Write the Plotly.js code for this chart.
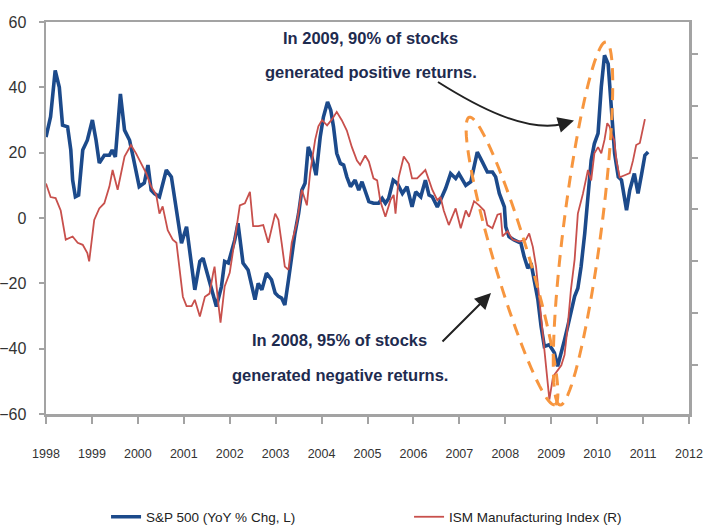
<!DOCTYPE html>
<html>
<head>
<meta charset="utf-8">
<script src="https://cdn.plot.ly/plotly-3.0.1.min.js"></script>
<style>
  html, body { margin: 0; padding: 0; background: #ffffff; }
  #chart { width: 707px; height: 527px; }
</style>
</head>
<body>
<div id="chart"></div>
<script>
// ---------------- data ----------------
const seriesNames = ['S&P 500 (YoY % Chg, L)', 'ISM Manufacturing Index (R)'];

// S&P 500 year-over-year % change (left axis)
const spxDates = [
  1998.00,1998.10,1998.20,1998.29,1998.36,1998.47,1998.54,1998.58,1998.64,1998.71,
  1998.80,1998.90,1999.01,1999.09,1999.16,1999.27,1999.38,1999.44,1999.51,1999.62,
  1999.71,1999.82,1999.89,2000.03,2000.14,2000.22,2000.29,2000.36,2000.47,2000.62,
  2000.73,2000.84,2000.95,2001.06,2001.17,2001.24,2001.35,2001.42,2001.49,2001.64,
  2001.71,2001.82,2001.89,2001.97,2002.11,2002.18,2002.29,2002.40,2002.55,2002.62,
  2002.70,2002.80,2002.91,2002.99,2003.06,2003.13,2003.20,2003.28,2003.35,2003.42,
  2003.50,2003.57,2003.64,2003.71,2003.79,2003.88,2003.97,2004.04,2004.13,2004.20,
  2004.26,2004.33,2004.41,2004.48,2004.55,2004.63,2004.73,2004.81,2004.88,2004.95,
  2005.03,2005.13,2005.24,2005.32,2005.39,2005.46,2005.56,2005.65,2005.76,2005.86,
  2005.97,2006.05,2006.16,2006.26,2006.34,2006.41,2006.52,2006.59,2006.70,2006.81,
  2006.92,2006.99,2007.14,2007.25,2007.32,2007.39,2007.50,2007.61,2007.72,2007.79,
  2007.87,2007.98,2008.01,2008.08,2008.19,2008.34,2008.41,2008.49,2008.56,2008.63,
  2008.71,2008.78,2008.85,2008.96,2009.07,2009.14,2009.22,2009.29,2009.36,2009.43,
  2009.51,2009.58,2009.65,2009.73,2009.80,2009.87,2009.94,2010.02,2010.09,2010.16,
  2010.24,2010.31,2010.38,2010.46,2010.53,2010.64,2010.71,2010.81,2010.89,2010.97,
  2011.04,2011.11
];
const spxYoY = [
  24.8,31,45.2,40,28.4,27.9,20.8,11.6,6.5,7,
  20.8,23.8,30,23.8,16.8,19.2,19.2,20.8,18.7,38,
  26.9,23.8,19.2,9.6,10.7,16.2,8.5,7.5,6.5,14.7,
  12.6,2.4,-7.7,-2.7,-14.9,-22,-13.3,-12.3,-15.9,-24,
  -27.1,-21,-13.3,-13.8,-6.7,-1.6,-13.8,-15.9,-25,-20,
  -22,-16.9,-18.9,-23,-24,-24.5,-26.6,-18.9,-11.8,-4.7,
  1.4,8.5,10.6,21.8,18.7,13.1,24.8,30.9,35.5,33,
  27.9,19.8,16.7,16.2,12.6,9.6,11.6,8.5,11.1,8.5,
  5,4.5,4.5,6,4.5,6,11.6,10.6,7.5,9.6,
  3.4,8,6.5,11.6,7,6.5,3.4,5.5,9,13.6,
  12.1,13.6,10,11.1,15.7,20.2,17.2,14.1,14.1,12.6,
  7.5,3.4,-2.7,-5.7,-6.7,-7.7,-11.8,-15.4,-13.8,-18.9,
  -25,-33.2,-39.3,-38.8,-41.3,-45.4,-40.5,-37.3,-33.2,-29.1,
  -24,-21.5,-14.9,-4.7,6.5,17.7,22.8,25.9,40.1,49.8,
  47.2,35,19.8,12.6,11.6,2.4,8.5,13.6,7.5,13.6,
  19.2,20.2
];

// ISM Manufacturing Index (right axis)
const ismDates = [
  1998.00,1998.10,1998.21,1998.32,1998.43,1998.58,1998.69,1998.80,1998.90,1998.94,
  1999.05,1999.16,1999.27,1999.38,1999.45,1999.56,1999.71,1999.85,1999.96,2000.07,
  2000.18,2000.29,2000.40,2000.47,2000.54,2000.65,2000.76,2000.84,2000.91,2000.98,
  2001.06,2001.17,2001.24,2001.35,2001.46,2001.56,2001.64,2001.67,2001.75,2001.80,
  2001.89,2002.00,2002.11,2002.22,2002.33,2002.44,2002.51,2002.62,2002.73,2002.84,
  2002.99,2003.06,2003.13,2003.20,2003.28,2003.35,2003.46,2003.57,2003.68,2003.75,
  2003.86,2003.93,2004.01,2004.12,2004.23,2004.33,2004.44,2004.55,2004.66,2004.77,
  2004.84,2004.95,2005.03,2005.13,2005.21,2005.28,2005.39,2005.50,2005.57,2005.61,
  2005.68,2005.79,2005.90,2005.97,2006.08,2006.19,2006.26,2006.34,2006.41,2006.52,
  2006.59,2006.66,2006.77,2006.92,2007.03,2007.14,2007.21,2007.32,2007.43,2007.54,
  2007.61,2007.72,2007.83,2007.90,2007.94,2008.05,2008.16,2008.30,2008.45,2008.52,
  2008.60,2008.67,2008.74,2008.82,2008.89,2008.96,2009.04,2009.11,2009.22,2009.29,
  2009.36,2009.43,2009.51,2009.58,2009.69,2009.80,2009.87,2009.94,2010.02,2010.09,
  2010.16,2010.22,2010.27,2010.31,2010.37,2010.42,2010.49,2010.60,2010.71,2010.78,
  2010.85,2010.93,2010.96,2011.04
];
const ismIndex = [
  52.5,51.2,51.1,49.9,47.1,47.4,46.8,46.6,45.8,45.0,
  49.0,50.1,50.6,52.2,53.8,51.9,55.1,56.2,55.4,54.4,
  53.5,52.2,51.4,49.6,50.3,48.0,47.1,46.8,43.9,41.6,
  40.7,40.7,41.3,39.7,41.6,41.9,43.9,44.5,41.0,39.1,
  42.6,43.9,47.1,50.4,50.6,51.7,48.4,48.4,48.5,46.8,
  49.6,49.0,46.8,44.5,44.2,46.8,48.7,51.9,50.4,53.5,
  56.7,58.0,58.6,58.1,58.7,59.4,58.6,57.6,56.0,54.7,
  54.3,55.2,54.6,53.0,52.8,50.8,49.3,50.9,51.4,49.6,
  53.1,55.1,54.4,53.0,53.0,53.5,53.8,52.8,51.9,50.9,
  51.2,49.9,48.5,50.1,48.2,49.9,49.3,50.8,50.4,49.9,
  48.5,48.2,49.5,49.6,47.4,47.9,47.1,46.9,47.1,47.7,
  46.4,44.5,41.3,37.5,34.9,31.7,33.9,34.3,35.0,36.0,
  38.8,42.3,45.2,49.6,51.5,53.8,52.8,55.4,56.0,55.4,
  56.7,58.3,58.0,57.3,56.7,54.7,53.1,53.3,53.5,54.7,
  56.2,56.4,57.0,58.7
];

// axes
const yearTicks = [1998,1999,2000,2001,2002,2003,2004,2005,2006,2007,2008,2009,2010,2011,2012];
const yearLabels = yearTicks.map(String);
const leftTicks = [-60,-40,-20,0,20,40,60];
const rightRange = [30.31, 68.05];

// annotation texts
const note2009 = ['In 2009, 90% of stocks', 'generated positive returns.'];
const note2008 = ['In 2008, 95% of stocks', 'generated negative returns.'];

// ---------------- layout helpers ----------------
const W = 707, H = 527;
const M = {l: 46, r: 18, t: 22, b: 113};
const plotW = W - M.l - M.r, plotH = H - M.t - M.b;
const xr = [1998, 2012], yr = [-60, 60];
const toX = px => xr[0] + (px - M.l) / plotW * (xr[1] - xr[0]);
const toY = py => yr[1] - (py - M.t) / plotH * (yr[1] - yr[0]);

function ellipsePath(cx, cy, halfLen, halfWid, dx, dy) {
  const n = Math.hypot(dx, dy); const ux = dx / n, uy = dy / n;
  const vx = -uy, vy = ux;
  let d = '';
  for (let i = 0; i <= 90; i++) {
    const t = i / 90 * 2 * Math.PI;
    const px = cx + halfLen * Math.cos(t) * ux + halfWid * Math.sin(t) * vx;
    const py = cy + halfLen * Math.cos(t) * uy + halfWid * Math.sin(t) * vy;
    d += (i === 0 ? 'M' : 'L') + toX(px).toFixed(4) + ',' + toY(py).toFixed(3) + ' ';
  }
  return d + 'Z';
}
function curvePath(pts) {
  const p = pts.map(([a, b]) => toX(a).toFixed(4) + ',' + toY(b).toFixed(3));
  return 'M' + p[0] + ' C' + p[1] + ' ' + p[2] + ' ' + p[3];
}

const FONT = "'Liberation Sans', Arial, sans-serif";
const AXIS = '#a3a3a3';
const NAVY = '#1e2b4f';
const ORANGE = '#f7963f';

const traces = [
  {
    x: spxDates, y: spxYoY, name: seriesNames[0], type: 'scatter', mode: 'lines',
    line: {color: '#1c4a8b', width: 3.6}, yaxis: 'y'
  },
  {
    x: ismDates, y: ismIndex, name: seriesNames[1], type: 'scatter', mode: 'lines',
    line: {color: '#c8504c', width: 1.8}, yaxis: 'y2'
  }
];

function textNote(px, py, txt) {
  return {
    x: toX(px), y: toY(py), xref: 'x', yref: 'y', text: txt, showarrow: false,
    xanchor: 'center', yanchor: 'middle',
    font: {family: FONT, size: 16.5, color: NAVY, weight: 'bold'}
  };
}

const layout = {
  width: W, height: H,
  margin: M,
  paper_bgcolor: '#ffffff', plot_bgcolor: '#ffffff',
  showlegend: true,
  legend: {
    orientation: 'h', xref: 'container', yref: 'container',
    x: 0.150, xanchor: 'left', y: 0.019, yanchor: 'middle',
    font: {family: FONT, size: 13.5, color: '#222222'},
    entrywidth: 258, entrywidthmode: 'pixels', bgcolor: 'rgba(0,0,0,0)'
  },
  xaxis: {
    range: xr, tickmode: 'array', tickvals: yearTicks, ticktext: yearLabels,
    ticks: 'outside', ticklen: 7, tickwidth: 2, tickcolor: AXIS,
    showline: true, linecolor: AXIS, linewidth: 2.5, mirror: true,
    showgrid: false, zeroline: false, ticklabelstandoff: 19,
    tickfont: {family: FONT, size: 12.5, color: '#333333'}
  },
  yaxis: {
    range: yr, tickmode: 'array', tickvals: leftTicks,
    ticks: 'outside', ticklen: 5, tickwidth: 2, tickcolor: AXIS,
    showline: true, linecolor: AXIS, linewidth: 2.5,
    showgrid: false, zeroline: false, ticklabelstandoff: 9,
    tickfont: {family: FONT, size: 16, color: '#333333'}
  },
  yaxis2: {
    overlaying: 'y', side: 'right', range: rightRange, dtick: 5, tick0: 0,
    ticks: 'outside', ticklen: 6, tickwidth: 2, tickcolor: AXIS,
    showline: true, linecolor: AXIS, linewidth: 2.5, showticklabels: false,
    showgrid: false, zeroline: false
  },
  shapes: [
    {type: 'path', xref: 'x', yref: 'y', path: ellipsePath(512, 261, 150, 17.5, 85, 286),
     line: {color: ORANGE, width: 3, dash: '12px,8px'}},
    {type: 'path', xref: 'x', yref: 'y', path: ellipsePath(583, 223.5, 183, 19, -46, 363),
     line: {color: ORANGE, width: 3, dash: '12px,8px'}},
    {type: 'path', xref: 'x', yref: 'y', path: curvePath([[438, 82], [476, 106], [526, 133], [563, 124]]),
     line: {color: '#222222', width: 2}}
  ],
  annotations: [
    textNote(370, 38, note2009[0]),
    textNote(371, 72, note2009[1]),
    textNote(339, 340, note2008[0]),
    textNote(340, 375, note2008[1]),
    {x: toX(574), y: toY(120.5), xref: 'x', yref: 'y', ax: -14, ay: 4, text: '',
     showarrow: true, arrowhead: 2, arrowsize: 1.6, arrowwidth: 2, arrowcolor: '#222222', standoff: 0},
    {x: toX(491), y: toY(293), xref: 'x', yref: 'y', ax: -50, ay: 50, text: '',
     showarrow: true, arrowhead: 2, arrowsize: 1.6, arrowwidth: 2, arrowcolor: '#222222', standoff: 0}
  ]
};

Plotly.newPlot('chart', traces, layout, {displayModeBar: false, staticPlot: true});
</script>
</body>
</html>
